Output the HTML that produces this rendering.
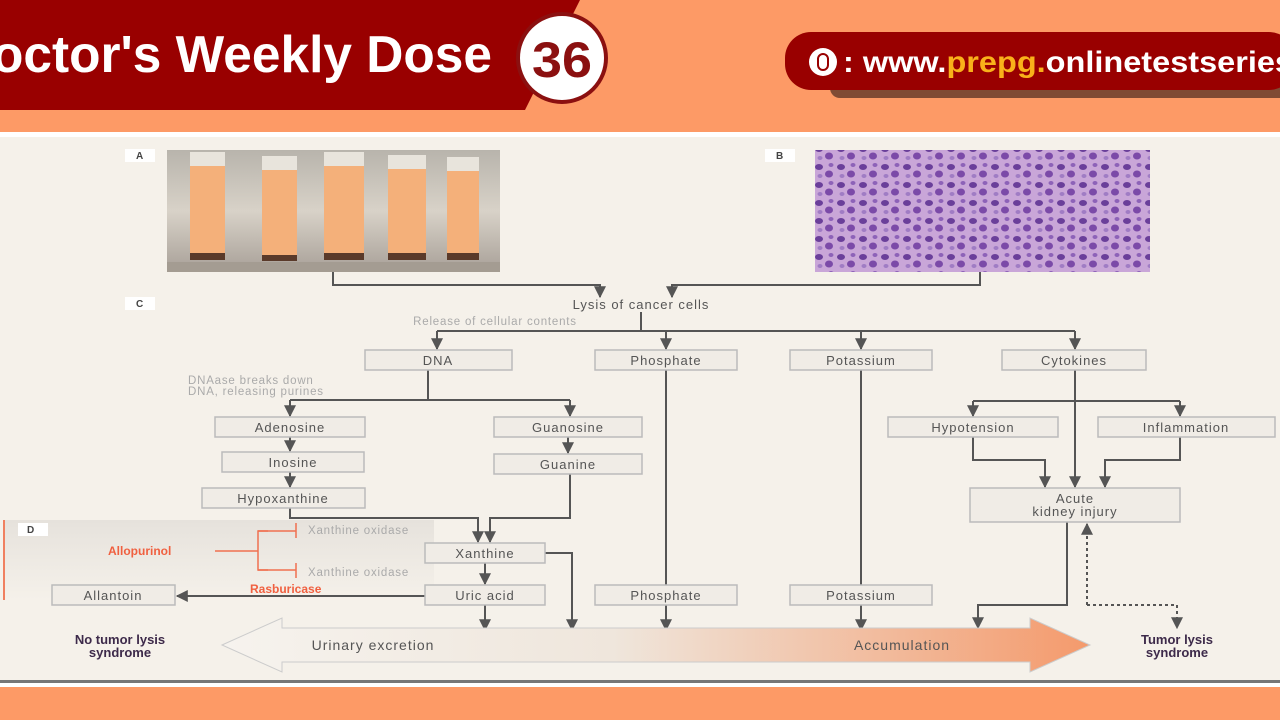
<!DOCTYPE html>
<html><head><meta charset="utf-8"><style>
html,body{margin:0;padding:0;width:1280px;height:720px;overflow:hidden;background:#fd9a66;font-family:"Liberation Sans",sans-serif}
</style></head><body>
<svg width="1280" height="720" viewBox="0 0 1280 720" xmlns="http://www.w3.org/2000/svg" font-family="Liberation Sans, sans-serif">
<defs>
<linearGradient id="ar" x1="0" x2="1"><stop offset="0" stop-color="#f6f3ee"/><stop offset="0.45" stop-color="#efe6dc"/><stop offset="1" stop-color="#f49a6c"/></linearGradient>
<linearGradient id="dp" x1="0" x2="0" y1="0" y2="1"><stop offset="0" stop-color="#e6e2dc"/><stop offset="1" stop-color="#f5f1ea"/></linearGradient>
<linearGradient id="ph" x1="0" x2="0" y1="0" y2="1"><stop offset="0" stop-color="#b8b4ac"/><stop offset="0.5" stop-color="#d8d2c8"/><stop offset="1" stop-color="#a8a098"/></linearGradient>
<pattern id="cells" width="22" height="18" patternUnits="userSpaceOnUse">
<rect width="22" height="18" fill="#c9a6d8"/><ellipse cx="5" cy="5" rx="4" ry="3" fill="#6a3f9a"/><ellipse cx="15" cy="12" rx="4" ry="3.5" fill="#7b4aa8"/><ellipse cx="17" cy="3" rx="2.5" ry="2" fill="#8d62b8"/><ellipse cx="6" cy="14" rx="2.5" ry="2" fill="#a07cc4"/></pattern>
<marker id="a" viewBox="0 0 10 10" refX="9" refY="5" markerWidth="6" markerHeight="6" orient="auto"><path d="M0,0L10,5L0,10z" fill="#555"/></marker>
</defs>
<!-- header -->
<rect width="1280" height="132" fill="#fd9a66"/>
<polygon points="0,0 580,0 525,110 0,110" fill="#990000"/>
<text x="-8" y="72" font-size="52" font-weight="bold" fill="#fff" textLength="500" lengthAdjust="spacingAndGlyphs">octor's Weekly Dose</text>
<circle cx="562" cy="58" r="44" fill="#fff" stroke="#8b1010" stroke-width="4"/>
<text x="562" y="77" font-size="50" font-weight="bold" fill="#8b1010" text-anchor="middle" textLength="60" lengthAdjust="spacingAndGlyphs">36</text>
<rect x="830" y="74" width="460" height="24" rx="10" fill="#4a2a20" opacity="0.7"/>
<rect x="785" y="32" width="510" height="58" rx="26" fill="#990000"/>
<circle cx="823" cy="62" r="14" fill="#fff"/><rect x="818" y="54" width="10" height="16" rx="5" fill="none" stroke="#990000" stroke-width="2"/>
<text x="843" y="72" font-size="30" font-weight="bold" fill="#fff" textLength="450" lengthAdjust="spacingAndGlyphs">: www.<tspan fill="#f9b11a">prepg.</tspan>onlinetestseries</text>
<!-- diagram panel -->
<rect x="0" y="132" width="1280" height="5" fill="#fff"/>
<rect x="0" y="137" width="1280" height="545" fill="#f5f1ea"/>
<rect x="0" y="680" width="1280" height="3" fill="#777"/>
<rect x="0" y="683" width="1280" height="4" fill="#fff"/>
<!-- D panel -->
<rect x="4" y="520" width="430" height="80" fill="url(#dp)"/>
<line x1="4" y1="520" x2="4" y2="600" stroke="#f08060" stroke-width="2"/>
<!-- photos -->
<rect x="167" y="150" width="333" height="122" fill="url(#ph)"/>
<g fill="#f4b07a"><rect x="190" y="165" width="35" height="88"/><rect x="262" y="170" width="35" height="85"/><rect x="324" y="165" width="40" height="88"/><rect x="388" y="168" width="38" height="85"/><rect x="447" y="170" width="32" height="83"/></g>
<g fill="#e8e4dc"><rect x="190" y="152" width="35" height="14"/><rect x="262" y="156" width="35" height="14"/><rect x="324" y="152" width="40" height="14"/><rect x="388" y="155" width="38" height="14"/><rect x="447" y="157" width="32" height="14"/></g>
<g fill="#5a3a2a"><rect x="190" y="253" width="35" height="7"/><rect x="262" y="255" width="35" height="6"/><rect x="324" y="253" width="40" height="7"/><rect x="388" y="253" width="38" height="7"/><rect x="447" y="253" width="32" height="7"/></g>
<rect x="167" y="262" width="333" height="10" fill="#a49c92"/>
<rect x="815" y="150" width="335" height="122" fill="url(#cells)"/>
<g font-size="10" font-weight="bold" fill="#444"><rect x="125" y="149" width="30" height="13" fill="#fff"/><text x="136" y="159">A</text>
<rect x="765" y="149" width="30" height="13" fill="#fff"/><text x="776" y="159">B</text>
<rect x="125" y="297" width="30" height="13" fill="#fff"/><text x="136" y="307">C</text>
<rect x="18" y="523" width="30" height="13" fill="#fff"/><text x="27" y="533">D</text></g>
<!-- connectors -->
<g stroke="#555" stroke-width="2" fill="none">
<path d="M333,272V285H600V297" marker-end="url(#a)"/>
<path d="M980,272V285H672V297" marker-end="url(#a)"/>
<path d="M641,312V331"/><path d="M437,331H1075"/>
<path d="M437,331V349" marker-end="url(#a)"/><path d="M666,331V349" marker-end="url(#a)"/><path d="M861,331V349" marker-end="url(#a)"/><path d="M1075,331V349" marker-end="url(#a)"/>
<path d="M428,370V400"/><path d="M290,400H570"/><path d="M290,400V416" marker-end="url(#a)"/><path d="M570,400V416" marker-end="url(#a)"/>
<path d="M290,437V451" marker-end="url(#a)"/><path d="M290,472V487" marker-end="url(#a)"/><path d="M568,437V453" marker-end="url(#a)"/>
<path d="M290,508V518H478V542" marker-end="url(#a)"/><path d="M570,474V518H490V542" marker-end="url(#a)"/>
<path d="M485,563V584" marker-end="url(#a)"/><path d="M545,553H572V630" marker-end="url(#a)"/>
<path d="M485,605V630" marker-end="url(#a)"/>
<path d="M666,370V630" marker-end="url(#a)"/><path d="M861,370V630" marker-end="url(#a)"/>
<path d="M425,596H177" marker-end="url(#a)"/>
<path d="M1075,370V487" marker-end="url(#a)"/><path d="M973,401H1180"/><path d="M973,401V416" marker-end="url(#a)"/><path d="M1180,401V416" marker-end="url(#a)"/>
<path d="M973,437V460H1045V487" marker-end="url(#a)"/><path d="M1180,437V460H1105V487" marker-end="url(#a)"/>
<path d="M1067,522V605H978V628" marker-end="url(#a)"/>
<path d="M1087,605V524" stroke-dasharray="3,3" marker-end="url(#a)"/><path d="M1087,605H1177V628" stroke-dasharray="3,3" marker-end="url(#a)"/>
</g>
<g stroke="#f07050" stroke-width="1.5" fill="none"><path d="M215,551H258"/><path d="M268,531H258V570H268"/><path d="M258,531H296M258,570H296"/><path d="M296,523V538M296,563V578"/></g>
<!-- big arrow -->
<polygon points="222,645 282,618 282,628 1030,628 1030,618 1090,645 1030,672 1030,662 282,662 282,672" fill="url(#ar)" stroke="#ccc"/>
<!-- boxes -->
<g fill="#f0ece6" stroke="#bbb" stroke-width="1.5">
<rect x="365" y="350" width="147" height="20"/><rect x="595" y="350" width="142" height="20"/><rect x="790" y="350" width="142" height="20"/><rect x="1002" y="350" width="144" height="20"/>
<rect x="215" y="417" width="150" height="20"/><rect x="494" y="417" width="148" height="20"/><rect x="222" y="452" width="142" height="20"/><rect x="494" y="454" width="148" height="20"/>
<rect x="202" y="488" width="163" height="20"/><rect x="425" y="543" width="120" height="20"/><rect x="425" y="585" width="120" height="20"/><rect x="595" y="585" width="142" height="20"/><rect x="790" y="585" width="142" height="20"/><rect x="52" y="585" width="123" height="20"/>
<rect x="888" y="417" width="170" height="20"/><rect x="1098" y="417" width="177" height="20"/><rect x="970" y="488" width="210" height="34"/>
</g>
<g font-size="13" fill="#555" text-anchor="middle" letter-spacing="1">
<text x="641" y="309">Lysis of cancer cells</text>
<text x="438" y="365">DNA</text><text x="666" y="365">Phosphate</text><text x="861" y="365">Potassium</text><text x="1074" y="365">Cytokines</text>
<text x="290" y="432">Adenosine</text><text x="568" y="432">Guanosine</text><text x="293" y="467">Inosine</text><text x="568" y="469">Guanine</text>
<text x="283" y="503">Hypoxanthine</text><text x="485" y="558">Xanthine</text><text x="485" y="600">Uric acid</text><text x="666" y="600">Phosphate</text><text x="861" y="600">Potassium</text><text x="113" y="600">Allantoin</text>
<text x="973" y="432">Hypotension</text><text x="1186" y="432">Inflammation</text><text x="1075" y="503">Acute</text><text x="1075" y="516">kidney injury</text>
<text x="373" y="650" font-size="14">Urinary excretion</text><text x="902" y="650" font-size="14">Accumulation</text>
</g>
<g font-size="11.5" fill="#aaa" letter-spacing="0.8">
<text x="495" y="325" text-anchor="middle">Release of cellular contents</text>
<text x="188" y="384">DNAase breaks down</text><text x="188" y="395">DNA, releasing purines</text>
<text x="308" y="534">Xanthine oxidase</text><text x="308" y="576">Xanthine oxidase</text>
</g>
<g font-size="12" font-weight="bold" fill="#f06040"><text x="108" y="555">Allopurinol</text><text x="250" y="593">Rasburicase</text></g>
<g font-size="13" font-weight="bold" fill="#3d2a4a" text-anchor="middle"><text x="120" y="644">No tumor lysis</text><text x="120" y="657">syndrome</text><text x="1177" y="644">Tumor lysis</text><text x="1177" y="657">syndrome</text></g>
</svg>
</body></html>
